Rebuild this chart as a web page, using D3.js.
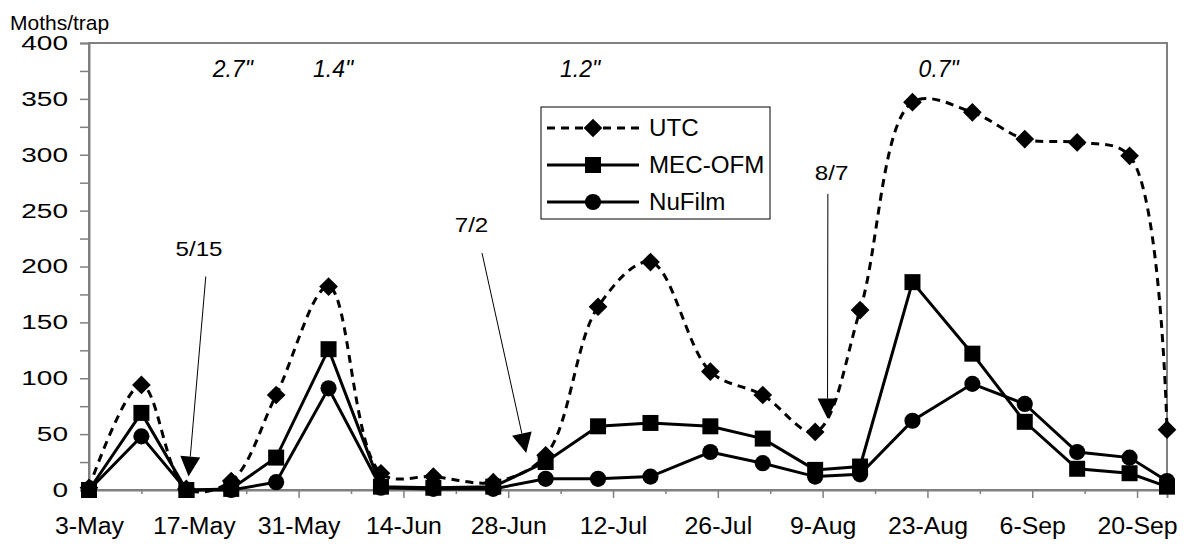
<!DOCTYPE html>
<html>
<head>
<meta charset="utf-8">
<script src="https://cdn.jsdelivr.net/npm/d3@7"></script>
<style>
  body { margin: 0; background: #fff; }
  svg { font-family: "Liberation Sans", Arial, sans-serif; }
</style>
</head>
<body>
<svg id="chart" width="1196" height="544"></svg>
<script>
// Data

const sampleDates = [
  "2004-05-03", "2004-05-10", "2004-05-16", "2004-05-22", "2004-05-28", "2004-06-04",
  "2004-06-11", "2004-06-18", "2004-06-26", "2004-07-03", "2004-07-10", "2004-07-17",
  "2004-07-25", "2004-08-01", "2004-08-08", "2004-08-14", "2004-08-21", "2004-08-29",
  "2004-09-05", "2004-09-12", "2004-09-19", "2004-09-24"
];

const utc =    [2, 94, 1, 8, 85, 182, 15, 12, 7, 31, 164, 204, 106, 85, 52, 161, 347, 338, 314, 311, 299, 54];
const mecOfm = [0, 69, 0, 1, 29, 126, 3, 2, 3, 25, 57, 60, 57, 46, 18, 21, 186, 122, 61, 19, 15, 3];
const nuFilm = [0, 48, 0, 0, 7, 91, 2, 1, 1, 10, 10, 12, 34, 24, 12, 14, 62, 95, 77, 34, 29, 8];

const seriesNames = ["UTC", "MEC-OFM", "NuFilm"];

const xTickLabels = ["3-May", "17-May", "31-May", "14-Jun", "28-Jun", "12-Jul",
  "26-Jul", "9-Aug", "23-Aug", "6-Sep", "20-Sep"];
const yTicks = [0, 50, 100, 150, 200, 250, 300, 350, 400];
const yMinorTicks = [25, 75, 125, 175, 225, 275, 325, 375];

// rainfall amounts (day offset from 3-May)
const rainLabels = ["2.7\"", "1.4\"", "1.2\"", "0.7\""];
const rainDays = [19.2, 32.6, 65.6, 113.5];

// spray date arrows: label, day offset / value for label, line start, tip
const sprayLabels = ["5/15", "7/2", "8/7"];
const sprayLabelAt = [[14.7, 209], [51.1, 231], [99.2, 277]];
const sprayFrom = [[15.6, 191], [52.5, 212], [98.7, 265]];
const sprayTip = [[13.3, 12], [58.4, 33], [98.65, 64]];

// Setup

const parseDate = d3.utcParse("%Y-%m-%d");
const parseTick = d3.utcParse("%d-%b-%Y");
const dates = sampleDates.map(parseDate);
const start = dates[0];
const dayOf = (n) => new Date(start.getTime() + n * 864e5);

const margin = { left: 89, right: 1167, top: 43, bottom: 490 };

const x = d3.scaleUtc()
  .domain([start, parseDate("2004-09-24")])
  .range([margin.left, margin.right]);
const y = d3.scaleLinear().domain([0, 400]).range([margin.bottom, margin.top]);

const svg = d3.select("#chart");
const grey = "#808080";

// text in the original is drawn a bit wider than the font's own metrics
function widen(sel, f) {
  sel.each(function () {
    const w = this.getComputedTextLength();
    d3.select(this).attr("textLength", w * f).attr("lengthAdjust", "spacingAndGlyphs");
  });
}

// plot border
svg.append("rect")
  .attr("x", margin.left).attr("y", margin.top)
  .attr("width", margin.right - margin.left)
  .attr("height", margin.bottom - margin.top)
  .attr("fill", "none").attr("stroke", grey).attr("stroke-width", 2);

// y axis
const yAxis = svg.append("g")
  .attr("transform", "translate(" + margin.left + ",0)")
  .call(d3.axisLeft(y).tickValues(yTicks).tickSize(9).tickPadding(12));
svg.append("g")
  .attr("transform", "translate(" + margin.left + ",0)")
  .call(d3.axisLeft(y).tickValues(yMinorTicks).tickSize(9).tickFormat(""))
  .call(g => g.select(".domain").remove());

// x axis
const majorTicks = xTickLabels.map(s => parseTick(s + "-2004"));
const minorTicks = majorTicks.map(d => d3.utcDay.offset(d, 7)).filter(d => d < x.domain()[1]);
const xAxis = svg.append("g")
  .attr("transform", "translate(0," + margin.bottom + ")")
  .call(d3.axisBottom(x).tickValues(majorTicks).tickSize(8).tickPadding(20)
    .tickFormat(d3.utcFormat("%-d-%b")));
svg.append("g")
  .attr("transform", "translate(0," + margin.bottom + ")")
  .call(d3.axisBottom(x).tickValues(minorTicks).tickSize(4).tickFormat(""))
  .call(g => g.select(".domain").remove());

svg.selectAll(".domain").attr("stroke", grey).attr("stroke-width", 2);
svg.selectAll(".tick line").attr("stroke", grey).attr("stroke-width", 1.5);
svg.selectAll(".tick text").attr("fill", "#000")
  .attr("font-family", "Liberation Sans, Arial, sans-serif");
yAxis.selectAll(".tick text").attr("font-size", 20).call(widen, 1.4);
xAxis.selectAll(".tick text").attr("font-size", 23).call(widen, 1.08);

svg.append("text")
  .attr("x", 10).attr("y", 30)
  .attr("font-size", 21)
  .text("Moths/trap");

// Series

const lineStraight = d3.line().x((d, i) => x(dates[i])).y(d => y(d));
const lineSmooth = d3.line().x((d, i) => x(dates[i])).y(d => y(d))
  .curve(d3.curveCatmullRom.alpha(0.5));

const diamond = d3.symbol().type(d3.symbolSquare).size(175);
const square = d3.symbol().type(d3.symbolSquare).size(256);
const circle = d3.symbol().type(d3.symbolCircle).size(205);

function drawSeries(values, line, dash, marker, rot) {
  svg.append("path")
    .datum(values)
    .attr("d", line)
    .attr("fill", "none")
    .attr("stroke", "#000")
    .attr("stroke-width", 3)
    .attr("stroke-dasharray", dash);
  svg.append("g").selectAll("path")
    .data(values)
    .join("path")
    .attr("d", marker)
    .attr("transform", (d, i) => "translate(" + x(dates[i]) + "," + y(d) + ") rotate(" + rot + ")")
    .attr("fill", "#000");
}

drawSeries(utc, lineSmooth, "8,6", diamond, 45);
drawSeries(nuFilm, lineStraight, null, circle, 0);
drawSeries(mecOfm, lineStraight, null, square, 0);

// Annotations

svg.append("g").selectAll("text")
  .data(rainLabels)
  .join("text")
  .attr("x", (d, i) => x(dayOf(rainDays[i])))
  .attr("y", y(370))
  .attr("text-anchor", "middle")
  .attr("font-size", 23)
  .attr("font-style", "italic")
  .text(d => d);

sprayLabels.forEach((lab, i) => {
  svg.append("text")
    .attr("x", x(dayOf(sprayLabelAt[i][0])))
    .attr("y", y(sprayLabelAt[i][1]))
    .attr("text-anchor", "middle")
    .attr("font-size", 21)
    .text(lab)
    .call(widen, 1.15);
  const x1 = x(dayOf(sprayFrom[i][0])), y1 = y(sprayFrom[i][1]);
  const x2 = x(dayOf(sprayTip[i][0])), y2 = y(sprayTip[i][1]);
  const ang = Math.atan2(y2 - y1, x2 - x1);
  const headLen = 20, headW = 10;
  const bx = x2 - headLen * Math.cos(ang), by = y2 - headLen * Math.sin(ang);
  svg.append("line")
    .attr("x1", x1).attr("y1", y1).attr("x2", bx).attr("y2", by)
    .attr("stroke", "#000").attr("stroke-width", 1);
  const px = -Math.sin(ang) * headW, py = Math.cos(ang) * headW;
  svg.append("path")
    .attr("d", "M" + x2 + "," + y2 + "L" + (bx + px) + "," + (by + py) + "L" + (bx - px) + "," + (by - py) + "Z")
    .attr("fill", "#000");
});

// Legend

const legend = svg.append("g").attr("transform", "translate(541,107)");
legend.append("rect")
  .attr("width", 229).attr("height", 112)
  .attr("fill", "#fff").attr("stroke", "#000").attr("stroke-width", 1);

const legendMarkers = [diamond, square, circle];
const legendRot = [45, 0, 0];
const legendDash = ["8,6", null, null];
seriesNames.forEach((name, i) => {
  const ry = 21 + i * 37;
  legend.append("line")
    .attr("x1", 6).attr("x2", 98).attr("y1", ry).attr("y2", ry)
    .attr("stroke", "#000").attr("stroke-width", 3)
    .attr("stroke-dasharray", legendDash[i]);
  legend.append("path")
    .attr("d", legendMarkers[i])
    .attr("transform", "translate(52," + ry + ") rotate(" + legendRot[i] + ")");
  legend.append("text")
    .attr("x", 108).attr("y", ry)
    .attr("dy", "0.35em")
    .attr("font-size", 23)
    .text(name)
    .call(widen, 1.05);
});
</script>
</body>
</html>
